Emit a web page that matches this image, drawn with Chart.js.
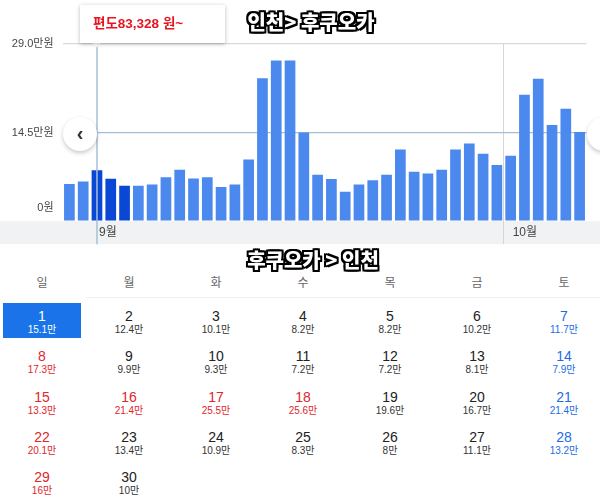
<!DOCTYPE html>
<html>
<head>
  <title>인천 후쿠오카 항공권</title>
  <meta charset="utf-8" />
  <script src="https://cdn.jsdelivr.net/npm/chart.js"></script>
  <style>
    body { margin: 0; background: #fff; font-family: Arial, "Noto Sans CJK KR", sans-serif; }
    #page { position: relative; width: 600px; height: 500px; overflow: hidden; }
    #chartBox { position: absolute; left: 0; top: 0; width: 600px; height: 250px; }
    .title {
      position: absolute; transform: translateX(-50%); white-space: nowrap;
      font-family: "Noto Sans CJK KR", sans-serif; font-weight: 900; font-size: 20px; color: #fff;
      text-shadow: -2px -2px 0 #000, 2px -2px 0 #000, -2px 2px 0 #000, 2px 2px 0 #000,
                   0 -2px 0 #000, 0 2px 0 #000, -2px 0 0 #000, 2px 0 0 #000;
    }
    #tip {
      position: absolute; left: 80px; top: 5px; width: 145px; height: 38px; background: #fff;
      box-shadow: 0 1px 4px rgba(0,0,0,0.28); color: #e8141f; font-weight: bold; font-size: 13.5px;
      line-height: 38px; padding-left: 13px; box-sizing: border-box;
    }
    #tipArrow {
      position: absolute; left: 93px; top: 39px; width: 7px; height: 7px; background: #fff;
      transform: rotate(45deg);
    }
    .nav {
      position: absolute; width: 34px; height: 34px; border-radius: 50%; background: #fff;
      box-shadow: 0 2px 4px rgba(0,0,0,0.22); text-align: center; line-height: 32px;
      font-size: 20px; font-weight: bold; color: #333;
    }
    .head, .num, .price { position: absolute; width: 80px; text-align: center; }
    .head { font-size: 12px; color: #666; line-height: 14px; }
    .num { font-size: 14px; color: #222; line-height: 16px; }
    .price { font-size: 10px; color: #333; line-height: 12px; }
  </style>
</head>
<body>
<div id="page">
  <div id="chartBox"><canvas id="chart"></canvas></div>
  <div class="title" style="left:311px; top:7px;">인천&gt; 후쿠오카</div>
  <div id="tipArrow"></div>
  <div id="tip"></div>
  <div class="nav" style="left:63px; top:117px;">‹</div>
  <div class="nav" style="left:587px; top:117px;">›</div>
  <div class="title" style="left:313px; top:245px;">후쿠오카 &gt; 인천</div>
  <div id="calendar"></div>
</div>

<script>
  // 인천 > 후쿠오카 daily lowest fares (만원), 8/30 ~ 10/6
  const days = [
    '8/30', '8/31', '9/1', '9/2', '9/3', '9/4', '9/5', '9/6', '9/7', '9/8',
    '9/9', '9/10', '9/11', '9/12', '9/13', '9/14', '9/15', '9/16', '9/17', '9/18',
    '9/19', '9/20', '9/21', '9/22', '9/23', '9/24', '9/25', '9/26', '9/27', '9/28',
    '9/29', '9/30', '10/1', '10/2', '10/3', '10/4', '10/5', '10/6'
  ];
  const fares = [
    6.1, 6.5, 8.3328, 6.95, 5.8, 5.8, 6.0, 7.2, 8.4, 7.0,
    7.2, 5.6, 6.0, 10.1, 23.4, 26.3, 26.3, 14.5, 7.6, 6.9,
    4.8, 6.0, 6.7, 7.6, 11.75, 8.1, 7.8, 8.4, 11.75, 12.7,
    11.05, 9.2, 10.7, 20.7, 23.3, 15.75, 18.4, 14.6
  ];
  const selectedDays = ['9/1', '9/2', '9/3'];
  const tipDay = '9/1';
  const monthLabels = { '9/1': '9월', '10/1': '10월' };
  const monthLines = ['10/1'];
  const yTicks = [0, 14.5, 29];
  const yTickLabels = ['0원', '14.5만원', '29.0만원'];

  // 후쿠오카 > 인천 calendar (2019년 9월)
  const weekDays = ['일', '월', '화', '수', '목', '금', '토'];
  const calDates = [
    1, 2, 3, 4, 5, 6, 7, 8, 9, 10, 11, 12, 13, 14, 15,
    16, 17, 18, 19, 20, 21, 22, 23, 24, 25, 26, 27, 28, 29, 30
  ];
  const calPrices = [
    '15.1만', '12.4만', '10.1만', '8.2만', '8.2만', '10.2만', '11.7만',
    '17.3만', '9.9만', '9.3만', '7.2만', '7.2만', '8.1만', '7.9만',
    '13.3만', '21.4만', '25.5만', '25.6만', '19.6만', '16.7만', '21.4만',
    '20.1만', '13.4만', '10.9만', '8.3만', '8만', '11.1만', '13.2만',
    '16만', '10만'
  ];
  const holidays = [16, 17, 18];
  const firstWeekDay = 0;
  const selectedDate = 1;

  Chart.defaults.font.family = 'Arial, "Noto Sans CJK KR", sans-serif';

  // grey strip behind the month axis
  const bandPlugin = {
    id: 'band',
    beforeDraw(chart) {
      const c = chart.ctx;
      c.save();
      c.fillStyle = '#f1f2f4';
      c.fillRect(0, chart.chartArea.bottom, chart.width, 23);
      c.restore();
    }
  };

  // vertical crosshair on the hovered day
  const crossPlugin = {
    id: 'cross',
    afterDatasetsDraw(chart) {
      const x = chart.scales.x.getPixelForValue(days.indexOf(tipDay));
      const c = chart.ctx;
      c.save();
      c.strokeStyle = '#a6c0d8';
      c.lineWidth = 1.5;
      c.beginPath();
      c.moveTo(x, chart.chartArea.top);
      c.lineTo(x, chart.chartArea.bottom + 23);
      c.stroke();
      c.restore();
    }
  };

  const ctx = document.getElementById('chart').getContext('2d');
  new Chart(ctx, {
    type: 'bar',
    data: {
      labels: days,
      datasets: [{
        data: fares,
        backgroundColor: c => selectedDays.includes(days[c.dataIndex]) ? '#0a47d4' : '#4b89ef',
        borderWidth: 0,
        barPercentage: 0.776,
        categoryPercentage: 1
      }]
    },
    options: {
      responsive: true,
      maintainAspectRatio: false,
      animation: false,
      layout: { padding: { top: 44, right: 13.5, bottom: 0, left: 0 } },
      plugins: { legend: { display: false }, tooltip: { enabled: false } },
      scales: {
        x: {
          offset: true,
          border: { display: false },
          afterFit: s => { s.height = 25; },
          grid: {
            offset: true,
            drawTicks: true,
            tickLength: 23,
            lineWidth: 1,
            color: c => (c.tick && monthLines.includes(days[c.index])) ? '#d6d6d6' : 'rgba(0,0,0,0)'
          },
          ticks: {
            autoSkip: false,
            maxRotation: 0,
            align: 'start',
            labelOffset: 2,
            padding: -19,
            color: '#444',
            font: { size: 12 },
            callback: (v, i) => monthLabels[days[i]] || ''
          }
        },
        y: {
          min: 0,
          max: 29,
          border: { display: false },
          afterBuildTicks: s => { s.ticks = yTicks.map(v => ({ value: v })); },
          afterFit: s => { s.width = 62.5; },
          grid: {
            drawTicks: false,
            lineWidth: 1.2,
            color: c => c.tick.value === 29 ? '#d9d9d9' : (c.tick.value === 14.5 ? '#a3bfd6' : 'rgba(0,0,0,0)')
          },
          ticks: {
            padding: 9,
            color: '#444',
            font: { size: 11 },
            // the 0 label sits a little above the baseline
            callback: (v, i) => i === 0 ? [yTickLabels[i], '', ''] : yTickLabels[i]
          }
        }
      }
    },
    plugins: [bandPlugin, crossPlugin]
  });

  // tooltip text
  const tipValue = fares[days.indexOf(tipDay)];
  document.getElementById('tip').textContent = '편도' + Math.round(tipValue * 10000).toLocaleString('en-US') + ' 원~';

  // calendar
  const cal = document.getElementById('calendar');
  const colX = i => 42 + 87 * i;
  let html = '';
  weekDays.forEach((w, i) => {
    html += '<div class="head" style="left:' + (colX(i) - 40) + 'px; top:276px;">' + w + '</div>';
  });
  html += '<div style="position:absolute; left:87px; top:297px; width:513px; height:1px; background:#efefef;"></div>';
  calDates.forEach((d, k) => {
    const idx = k + firstWeekDay;
    const col = idx % 7;
    const row = Math.floor(idx / 7);
    const y = 316 + 40.3 * row;
    let numColor = '#222', priceColor = '#333';
    if (d === selectedDate) {
      numColor = '#fff'; priceColor = '#fff';
      html += '<div style="position:absolute; left:3px; top:303px; width:78px; height:35px; background:#1a73e8;"></div>';
    } else if (col === 0 || holidays.includes(d)) {
      numColor = '#e0262c'; priceColor = '#e0262c';
    } else if (col === 6) {
      numColor = '#1a6de6'; priceColor = '#1a6de6';
    }
    html += '<div class="num" style="left:' + (colX(col) - 40) + 'px; top:' + (y - 8) + 'px; color:' + numColor + ';">' + d + '</div>';
    html += '<div class="price" style="left:' + (colX(col) - 40) + 'px; top:' + (y + 8) + 'px; color:' + priceColor + ';">' + calPrices[k] + '</div>';
  });
  cal.innerHTML = html;
</script>
</body>
</html>
